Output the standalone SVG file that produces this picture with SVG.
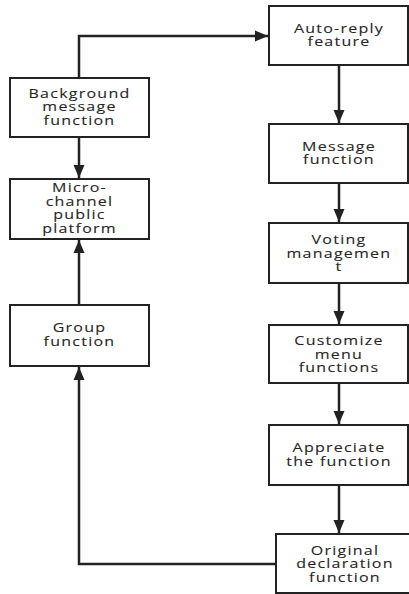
<svg xmlns="http://www.w3.org/2000/svg" width="409" height="594" viewBox="0 0 409 594">
<style>
.box{fill:#fff;stroke:#222;stroke-width:2}
.t{font-family:"Open Sans","DejaVu Sans",sans-serif;font-size:12.8px;letter-spacing:1px;fill:#262626;stroke:#262626;stroke-width:0.1;text-anchor:middle;transform-box:fill-box;transform-origin:center;transform:scaleX(1.25)}
.c{fill:none;stroke:#222;stroke-width:2.5}
</style>
<defs>
<marker id="ah" markerUnits="userSpaceOnUse" markerWidth="13" markerHeight="13" viewBox="0 0 13 13" refX="13" refY="6.5" orient="auto">
<path d="M0,1 L13,6.5 L0,12 Z" fill="#222"/>
</marker>
</defs>
<rect width="409" height="594" fill="#fff"/>
<g id="connectors">
<path class="c" d="M79,78 V36 H268" marker-end="url(#ah)"/>
<path class="c" d="M339,65 V123" marker-end="url(#ah)"/>
<path class="c" d="M339,183 V222" marker-end="url(#ah)"/>
<path class="c" d="M339,283 V324" marker-end="url(#ah)"/>
<path class="c" d="M339,383 V424" marker-end="url(#ah)"/>
<path class="c" d="M339,485 V533" marker-end="url(#ah)"/>
<path class="c" d="M79,137 V178" marker-end="url(#ah)"/>
<path class="c" d="M79,305 V240" marker-end="url(#ah)"/>
<path class="c" d="M276,564 H79 V367" marker-end="url(#ah)"/>
</g>
<g id="auto-reply">
<rect class="box" x="269" y="6" width="139" height="59"/>
<text class="t" x="339" y="33">Auto-reply</text>
<text class="t" x="339" y="46.5">feature</text>
</g>
<g id="background">
<rect class="box" x="10" y="78" width="139" height="59"/>
<text class="t" x="79.5" y="98">Background</text>
<text class="t" x="79.5" y="111.5">message</text>
<text class="t" x="79.5" y="125">function</text>
</g>
<g id="message">
<rect class="box" x="269" y="124" width="139" height="59"/>
<text class="t" x="339" y="151">Message</text>
<text class="t" x="339" y="164.5">function</text>
</g>
<g id="micro-channel">
<rect class="box" x="10" y="179" width="139" height="60"/>
<text class="t" x="79.5" y="192.5">Micro-</text>
<text class="t" x="79.5" y="206">channel</text>
<text class="t" x="79.5" y="219.5">public</text>
<text class="t" x="79.5" y="233">platform</text>
</g>
<g id="voting">
<rect class="box" x="269" y="223" width="139" height="60"/>
<text class="t" x="339" y="244.5">Voting</text>
<text class="t" x="339" y="258">managemen</text>
<text class="t" x="339" y="271.5">t</text>
</g>
<g id="group">
<rect class="box" x="10" y="305" width="139" height="61"/>
<text class="t" x="79.5" y="332.5">Group</text>
<text class="t" x="79.5" y="346.5">function</text>
</g>
<g id="customize">
<rect class="box" x="269" y="325" width="139" height="58"/>
<text class="t" x="339" y="345.5">Customize</text>
<text class="t" x="339" y="359">menu</text>
<text class="t" x="339" y="372.5">functions</text>
</g>
<g id="appreciate">
<rect class="box" x="269" y="425" width="139" height="60"/>
<text class="t" x="339" y="452.5">Appreciate</text>
<text class="t" x="339" y="466">the function</text>
</g>
<g id="original">
<rect class="box" x="276" y="534" width="140" height="59"/>
<text class="t" x="345" y="555">Original</text>
<text class="t" x="345" y="568.5">declaration</text>
<text class="t" x="345" y="582">function</text>
</g>
</svg>
